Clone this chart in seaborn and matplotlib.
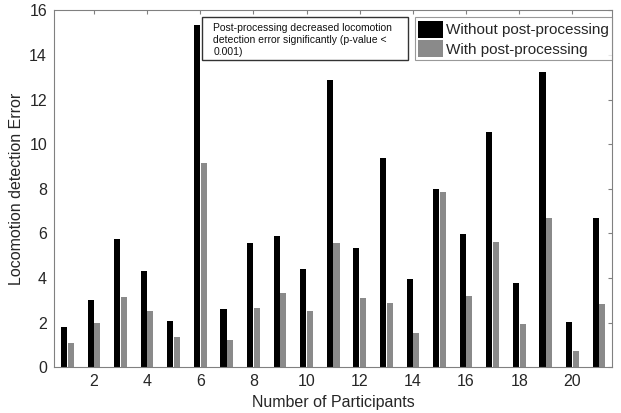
import pandas as pd
import seaborn as sb
import matplotlib.pyplot as plt
from matplotlib.patches import Rectangle

participants = list(range(1, 22))
without_pp = [1.82, 2.99, 5.73, 4.33, 2.09, 15.33, 2.61, 5.57, 5.9, 4.39,
              12.87, 5.34, 9.36, 3.96, 8.0, 5.97, 10.54, 3.78, 13.22, 2.01, 6.67]
with_pp = [1.07, 2.0, 3.15, 2.54, 1.33, 9.16, 1.22, 2.64, 3.31, 2.51,
           5.58, 3.09, 2.88, 1.54, 7.84, 3.18, 5.6, 1.94, 6.7, 0.73, 2.84]
labels = ['Without post-processing', 'With post-processing']
note = 'Post-processing decreased locomotion\ndetection error significantly (p-value <\n0.001)'

df = pd.DataFrame({
    'Participant': participants * 2,
    'Error': without_pp + with_pp,
    'Condition': [labels[0]] * 21 + [labels[1]] * 21,
})

sb.set_style('white')
plt.rcParams['font.family'] = ['Liberation Sans', 'DejaVu Sans']

fig = plt.figure(figsize=(6.21, 4.13), dpi=100)
ax = fig.add_axes([0.087, 0.111, 0.899, 0.864])
sb.barplot(data=df, x='Participant', y='Error', hue='Condition', hue_order=labels,
           palette=['#000000', '#8a8a8a'], width=0.5, gap=0.08, saturation=1,
           linewidth=0, ax=ax)

ax.set_xlim(-0.5, 20.5)
ax.set_ylim(0, 16)
ax.set_xticks(range(1, 21, 2))
ax.set_xticklabels([str(p) for p in range(2, 21, 2)])
ax.set_yticks(range(0, 17, 2))
ax.tick_params(direction='in', top=True, right=True, length=3, color='#808080',
               labelsize=11.5, labelcolor='#262626', pad=5)
for s in ax.spines.values():
    s.set_color('#808080')
    s.set_linewidth(0.8)
ax.set_xlabel('Number of Participants', fontsize=11.5, color='#262626', labelpad=4)
ax.set_ylabel('Locomotion detection Error', fontsize=11.5, color='#262626')

# legend box sits a little below the top spine, like the note box
leg = ax.legend(loc='upper right', bbox_to_anchor=(0.999, 0.98), borderaxespad=0,
                fontsize=11, frameon=True, fancybox=False,
                handlelength=1.6, handleheight=1.4,
                handletextpad=0.2, labelspacing=0.1, borderpad=0.2)
leg.get_frame().set_edgecolor('#808080')
leg.get_frame().set_linewidth(0.8)

ax.add_patch(Rectangle((0.265, 0.86), 0.369, 0.12, transform=ax.transAxes,
                       facecolor='white', edgecolor='#333333', linewidth=1, zorder=5))
ax.text(0.285, 0.965, note, transform=ax.transAxes, fontsize=7.5, va='top',
        ha='left', linespacing=1.25, color='#111111', zorder=6)

fig.savefig('out.png', dpi=100)
